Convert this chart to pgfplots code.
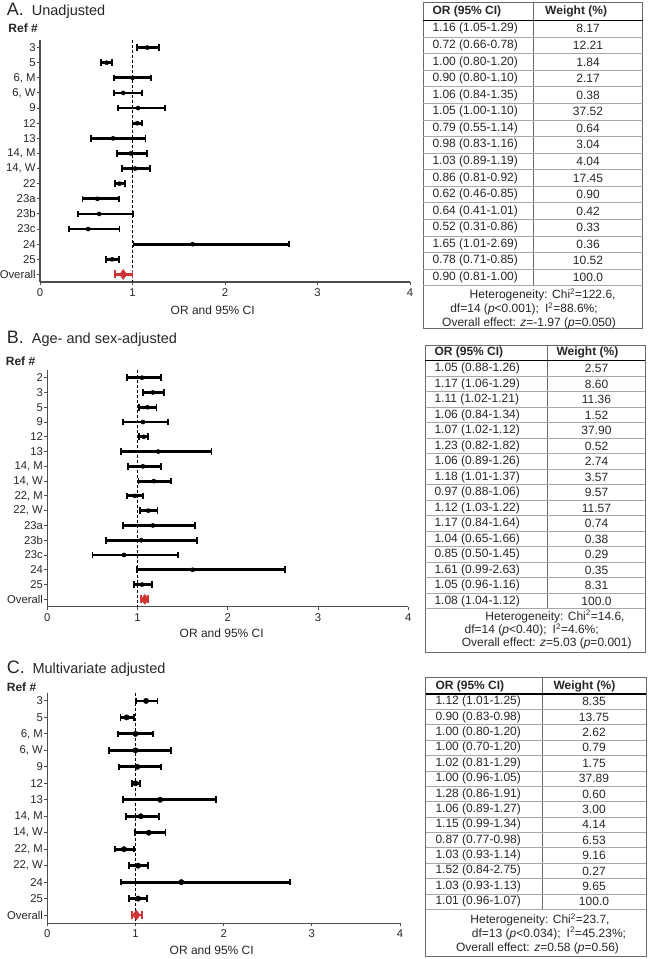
\documentclass[border=0pt]{standalone}
\usepackage{pgfplots}
\pgfplotsset{compat=1.18}
\usepackage{fontspec}
\setmainfont{Liberation Sans}
\definecolor{ink}{HTML}{262626}
\definecolor{axgray}{HTML}{4D4D4D}
\definecolor{ovred}{RGB}{208,52,52}
\definecolor{tline}{HTML}{6A6A6A}
\definecolor{rline}{HTML}{A8A8A8}

\pgfplotsset{
  forest/.style={
    scale only axis, anchor=south west,
    xmin=0, xmax=4, xtick={0,1,2,3,4},
    y dir=reverse,
    axis x line*=bottom, axis y line*=left,
    axis line style={axgray, line width=1.1pt, -},
    tick style={axgray, line width=0.9pt},
    major tick length=3pt,
    tick align=outside,
    ticklabel style={font=\fontsize{11.3}{13}\selectfont, text=ink},
    yticklabel style={inner sep=1.2pt},
    /pgf/number format/assume math mode=true,
    clip=false,
  },
  studies/.style={only marks, mark=*, mark size=2.1pt, black,
    error bars/x dir=both, error bars/x explicit,
    error bars/error bar style={line width=2.8pt, black},
    error bars/error mark=|, error bars/error mark options={line width=1.8pt, mark size=3.3pt, black}},
  overall/.style={only marks, mark=diamond*, mark size=5pt, ovred,
    error bars/x dir=both, error bars/x explicit,
    error bars/error bar style={line width=2.8pt, ovred},
    error bars/error mark=|, error bars/error mark options={line width=1.8pt, mark size=4pt, ovred}},
  refline/.style={black, line width=0.9pt, dash pattern=on 3pt off 2pt, no marks},
  table/eb/.style={x=or, y=r, x error plus expr=\thisrow{hi}-\thisrow{or}, x error minus expr=\thisrow{or}-\thisrow{lo}},
}

\begin{document}
\begin{tikzpicture}[x=1pt,y=1pt, font=\fontsize{12}{14}\selectfont, every node/.style={text=ink}]
\path[use as bounding box] (0,0) rectangle (654,-959);

% ---------------- Panel A ----------------
\node[anchor=base west, inner sep=0] at (6.7,-15) {\fontsize{18}{20}\selectfont A.};
\node[anchor=base west, inner sep=0] at (31.7,-15) {\fontsize{14.5}{16}\selectfont Unadjusted};
\node[anchor=base west, inner sep=0] at (8.3,-32.3) {\bfseries Ref \#};
\begin{axis}[forest, at={(40pt,-282pt)}, width=370pt, height=242pt,
  ymin=0.5, ymax=16.5, ytick={1,...,16},
  yticklabels={3,5,{6, M},{6, W},9,12,13,{14, M},{14, W},22,23a,23b,23c,24,25,Overall}]
\addplot[refline] coordinates {(1,0.5) (1,16.5)};
\addplot[studies] table[eb] {
r or lo hi
1 1.16 1.05 1.29
2 0.72 0.66 0.78
3 1.00 0.80 1.20
4 0.90 0.80 1.10
5 1.06 0.84 1.35
6 1.05 1.00 1.10
7 0.79 0.55 1.14
8 0.98 0.83 1.16
9 1.03 0.89 1.19
10 0.86 0.81 0.92
11 0.62 0.46 0.85
12 0.64 0.41 1.01
13 0.52 0.31 0.86
14 1.65 1.01 2.69
15 0.78 0.71 0.85
};
\addplot[overall] table[eb] {
r or lo hi
16 0.90 0.81 1.00
};
\end{axis}
\node at (212.7,-310) {OR and 95\% CI};

% Table A
\draw[tline, line width=0.8pt] (423.3,-2.7) rectangle (642.7,-328.3);
\draw[tline, line width=0.8pt] (533.3,-2.7) -- (533.3,-285.7);
\node[anchor=west, font=\bfseries\fontsize{12}{14}\selectfont] at (429,-11) {OR (95\% CI)};
\node[anchor=west, font=\bfseries\fontsize{12}{14}\selectfont] at (541.7,-11) {Weight (\%)};
\draw[black, line width=1.6pt] (423.3,-20.5) -- (642.7,-20.5);
\foreach \t/\w [count=\i from 0] in {1.16 (1.05-1.29)/8.17, 0.72 (0.66-0.78)/12.21, 1.00 (0.80-1.20)/1.84, 0.90 (0.80-1.10)/2.17, 1.06 (0.84-1.35)/0.38, 1.05 (1.00-1.10)/37.52, 0.79 (0.55-1.14)/0.64, 0.98 (0.83-1.16)/3.04, 1.03 (0.89-1.19)/4.04, 0.86 (0.81-0.92)/17.45, 0.62 (0.46-0.85)/0.90, 0.64 (0.41-1.01)/0.42, 0.52 (0.31-0.86)/0.33, 1.65 (1.01-2.69)/0.36, 0.78 (0.71-0.85)/10.52, 0.90 (0.81-1.00)/100.0} {
  \pgfmathsetmacro\yc{-(28.8+16.57*\i)}
  \node[anchor=west] at (429,\yc) {\t};
  \node at (588,\yc) {\w};
  \draw[rline, line width=0.8pt] (423.3,\yc-8.28) -- (642.7,\yc-8.28);
}
\node at (542.6,-295) {Heterogeneity: Chi\textsuperscript{2}=122.6,};
\node at (524,-309) {df=14 (\textit{p}<0.001);\enspace I\textsuperscript{2}=88.6\%;};
\node at (529,-323) {Overall effect: \textit{z}=-1.97 (\textit{p}=0.050)};

% ---------------- Panel B ----------------
\node[anchor=base west, inner sep=0] at (6.7,-343.3) {\fontsize{18}{20}\selectfont B.};
\node[anchor=base west, inner sep=0] at (31.7,-343.3) {\fontsize{14.5}{16}\selectfont Age- and sex-adjusted};
\node[anchor=base west, inner sep=0] at (5.7,-365) {\bfseries Ref \#};
\begin{axis}[forest, at={(47.3pt,-606.7pt)}, width=361pt, height=236.4pt,
  ymin=0.5, ymax=16.5, ytick={1,...,16},
  yticklabels={2,3,5,9,12,13,{14, M},{14, W},{22, M},{22, W},23a,23b,23c,24,25,Overall}]
\addplot[refline] coordinates {(1,0.5) (1,16.5)};
\addplot[studies] table[eb] {
r or lo hi
1 1.05 0.88 1.26
2 1.17 1.06 1.29
3 1.11 1.02 1.21
4 1.06 0.84 1.34
5 1.07 1.02 1.12
6 1.23 0.82 1.82
7 1.06 0.89 1.26
8 1.18 1.01 1.37
9 0.97 0.88 1.06
10 1.12 1.03 1.22
11 1.17 0.84 1.64
12 1.04 0.65 1.66
13 0.85 0.50 1.45
14 1.61 0.99 2.63
15 1.05 0.96 1.16
};
\addplot[overall] table[eb] {
r or lo hi
16 1.08 1.04 1.12
};
\end{axis}
\node at (221.7,-633) {OR and 95\% CI};

% Table B
\draw[tline, line width=0.8pt] (425,-345) rectangle (645.3,-652.3);
\draw[tline, line width=0.8pt] (547.7,-345) -- (547.7,-609);
\node[anchor=west, font=\bfseries\fontsize{12}{14}\selectfont] at (431,-352.7) {OR (95\% CI)};
\node[anchor=west, font=\bfseries\fontsize{12}{14}\selectfont] at (553,-352.7) {Weight (\%)};
\draw[black, line width=1.6pt] (425,-360.5) -- (645.3,-360.5);
\foreach \t/\w [count=\i from 0] in {1.05 (0.88-1.26)/2.57, 1.17 (1.06-1.29)/8.60, 1.11 (1.02-1.21)/11.36, 1.06 (0.84-1.34)/1.52, 1.07 (1.02-1.12)/37.90, 1.23 (0.82-1.82)/0.52, 1.06 (0.89-1.26)/2.74, 1.18 (1.01-1.37)/3.57, 0.97 (0.88-1.06)/9.57, 1.12 (1.03-1.22)/11.57, 1.17 (0.84-1.64)/0.74, 1.04 (0.65-1.66)/0.38, 0.85 (0.50-1.45)/0.29, 1.61 (0.99-2.63)/0.35, 1.05 (0.96-1.16)/8.31, 1.08 (1.04-1.12)/100.0} {
  \pgfmathsetmacro\yc{-(368.6+15.5*\i)}
  \node[anchor=west] at (431,\yc) {\t};
  \node at (596.5,\yc) {\w};
  \draw[rline, line width=0.8pt] (425,\yc-7.75) -- (645.3,\yc-7.75);
}
\node at (555,-616.5) {Heterogeneity: Chi\textsuperscript{2}=14.6,};
\node at (531.7,-630) {df=14 (\textit{p}<0.40);\enspace I\textsuperscript{2}=4.6\%;};
\node at (546.7,-643.5) {Overall effect: \textit{z}=5.03 (\textit{p}=0.001)};

% ---------------- Panel C ----------------
\node[anchor=base west, inner sep=0] at (6.7,-673.3) {\fontsize{18}{20}\selectfont C.};
\node[anchor=base west, inner sep=0] at (32.3,-673.3) {\fontsize{14.5}{16}\selectfont Multivariate adjusted};
\node[anchor=base west, inner sep=0] at (6.7,-691.7) {\bfseries Ref \#};
\begin{axis}[forest, at={(47.3pt,-923.3pt)}, width=352.7pt, height=230.6pt,
  ymin=0.5, ymax=14.5, ytick={1,...,14},
  yticklabels={3,5,{6, M},{6, W},9,12,13,{14, M},{14, W},{22, M},{22, W},24,25,Overall}]
\addplot[refline] coordinates {(1,0.5) (1,14.5)};
\addplot[studies, mark size=2.7pt] table[eb] {
r or lo hi
1 1.12 1.01 1.25
2 0.90 0.83 0.98
3 1.00 0.80 1.20
4 1.00 0.70 1.40
5 1.02 0.81 1.29
6 1.00 0.96 1.05
7 1.28 0.86 1.91
8 1.06 0.89 1.27
9 1.15 0.99 1.34
10 0.87 0.77 0.98
11 1.03 0.93 1.14
12 1.52 0.84 2.75
13 1.03 0.93 1.13
};
\addplot[overall] table[eb] {
r or lo hi
14 1.01 0.96 1.07
};
\end{axis}
\node at (211.7,-950) {OR and 95\% CI};

% Table C
\draw[tline, line width=0.8pt] (425.7,-677.3) rectangle (646,-956.7);
\draw[tline, line width=0.8pt] (542.3,-677.3) -- (542.3,-910);
\node[anchor=west, font=\bfseries\fontsize{12}{14}\selectfont] at (432,-686) {OR (95\% CI)};
\node[anchor=west, font=\bfseries\fontsize{12}{14}\selectfont] at (550,-686) {Weight (\%)};
\draw[black, line width=1.6pt] (425.7,-693.8) -- (646,-693.8);
\foreach \t/\w [count=\i from 0] in {1.12 (1.01-1.25)/8.35, 0.90 (0.83-0.98)/13.75, 1.00 (0.80-1.20)/2.62, 1.00 (0.70-1.20)/0.79, 1.02 (0.81-1.29)/1.75, 1.00 (0.96-1.05)/37.89, 1.28 (0.86-1.91)/0.60, 1.06 (0.89-1.27)/3.00, 1.15 (0.99-1.34)/4.14, 0.87 (0.77-0.98)/6.53, 1.03 (0.93-1.14)/9.16, 1.52 (0.84-2.75)/0.27, 1.03 (0.93-1.13)/9.65, 1.01 (0.96-1.07)/100.0} {
  \pgfmathsetmacro\yc{-(701.7+15.38*\i)}
  \node[anchor=west] at (432,\yc) {\t};
  \node at (594,\yc) {\w};
  \draw[rline, line width=0.8pt] (425.7,\yc-7.69) -- (646,\yc-7.69);
}
\node at (540,-920) {Heterogeneity: Chi\textsuperscript{2}=23.7,};
\node at (549,-933.5) {df=13 (\textit{p}<0.034);\enspace I\textsuperscript{2}=45.23\%;};
\node at (537.5,-948.3) {Overall effect: \textit{z}=0.58 (\textit{p}=0.56)};
\end{tikzpicture}
\end{document}
